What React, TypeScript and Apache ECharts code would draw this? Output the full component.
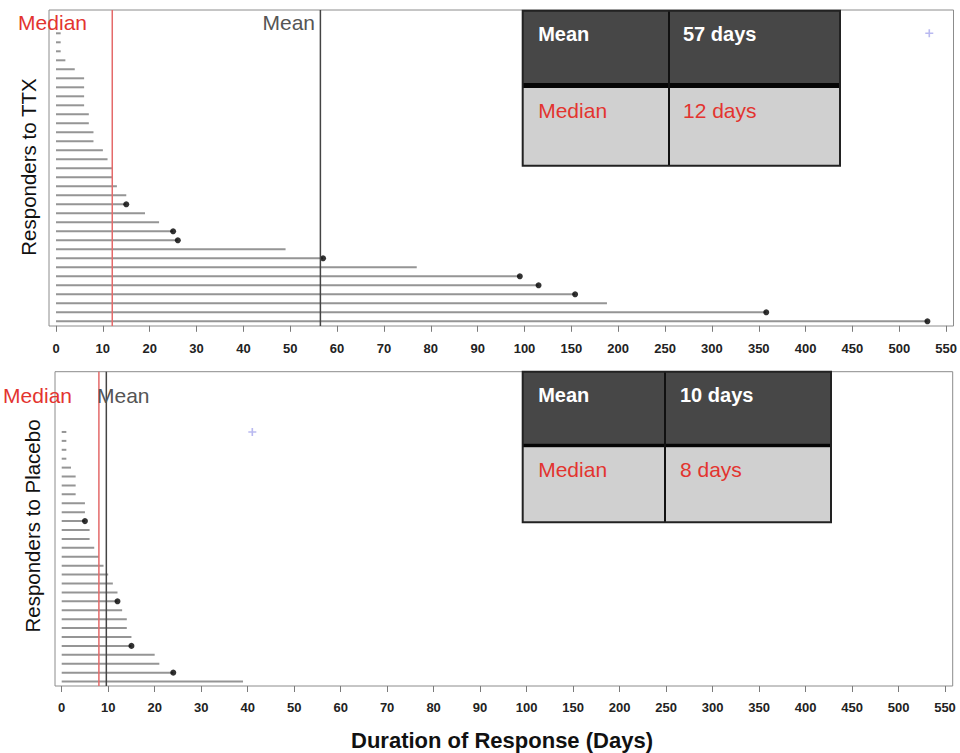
import { useEffect, useRef } from "react";
import * as echarts from "echarts";

// ---------- data ----------
const tickLabels = [0, 10, 20, 30, 40, 50, 60, 70, 80, 90, 100, 150, 200, 250, 300, 350, 400, 450, 500, 550];

const ttxDays = [1, 1, 1, 2, 4, 6, 6, 6, 6, 7, 7, 8, 8, 10, 11, 12, 12, 13, 15, 15, 19, 22, 25, 26, 49, 57, 77, 99, 115, 154, 188, 358, 530];
const ttxEvent = [0, 0, 0, 0, 0, 0, 0, 0, 0, 0, 0, 0, 0, 0, 0, 0, 0, 0, 0, 1, 0, 0, 1, 1, 0, 1, 0, 1, 1, 1, 0, 1, 1];
const ttxPlus = [532];
const ttxMedianLine = 12;
const ttxMeanLine = 56.4;
const ttxTable = [["Mean", "57 days"], ["Median", "12 days"]];

const placeboDays = [1, 1, 1, 1, 2, 3, 3, 3, 5, 5, 5, 6, 6, 7, 8, 9, 10, 11, 12, 12, 13, 14, 14, 15, 15, 20, 21, 24, 39];
const placeboEvent = [0, 0, 0, 0, 0, 0, 0, 0, 0, 0, 1, 0, 0, 0, 0, 0, 0, 0, 0, 1, 0, 0, 0, 0, 1, 0, 0, 1, 0];
const placeboPlus = [41];
const placeboMedianLine = 8;
const placeboMeanLine = 9.6;
const placeboTable = [["Mean", "10 days"], ["Median", "8 days"]];

// broken axis: 0-100 in steps of 10, then 100-550 in steps of 50, equally spaced
const toAxis = (v: number) => (v <= 100 ? v / 10 : 10 + (v - 100) / 50);

const RED = "#e3342f";
const FONT = '"Liberation Sans", Arial, Helvetica, sans-serif';

type Box = { l: number; r: number; t: number; b: number };
const panels: { box: Box; data: Box; days: number[]; ev: number[]; plus: number[]; med: number; mean: number; labelMargin: number }[] = [
  { box: { l: 49, r: 953.5, t: 10, b: 326 }, data: { l: 56, r: 946.7, t: 28.8, b: 325.8 }, days: ttxDays, ev: ttxEvent, plus: ttxPlus, med: ttxMedianLine, mean: ttxMeanLine, labelMargin: 16 },
  { box: { l: 55, r: 952.7, t: 371.7, b: 686 }, data: { l: 61.7, r: 945, t: 427.5, b: 686 }, days: placeboDays, ev: placeboEvent, plus: placeboPlus, med: placeboMedianLine, mean: placeboMeanLine, labelMargin: 15 },
];

function tableGraphic(x0: number, x1: number, y0: number, s0: number, s1: number, y1: number, col: number, rows: string[][], tx2: number) {
  const els: any[] = [
    { type: "rect", shape: { x: x0, y: y0, width: x1 - x0, height: s0 - y0 }, style: { fill: "#474747" } },
    { type: "rect", shape: { x: x0, y: s1, width: x1 - x0, height: y1 - s1 }, style: { fill: "#d0d0d0" } },
    { type: "rect", shape: { x: x0, y: s0, width: x1 - x0, height: s1 - s0 }, style: { fill: "#050505" } },
    { type: "line", shape: { x1: col, y1: y0, x2: col, y2: y1 }, style: { stroke: "#111", lineWidth: 2 } },
    { type: "rect", shape: { x: x0, y: y0, width: x1 - x0, height: y1 - y0 }, style: { fill: "none", stroke: "#222", lineWidth: 2 } },
  ];
  const ty = [y0 + 23.5, s1 + 22];
  rows.forEach((r, i) => {
    const isHead = i === 0;
    const common = {
      fontFamily: FONT,
      fontSize: isHead ? 20 : 21,
      fontWeight: isHead ? "bold" : "normal",
      fill: isHead ? "#ffffff" : RED,
      align: "left",
      verticalAlign: "middle",
    };
    els.push({ type: "text", x: x0 + 15.5, y: ty[i], style: { ...common, text: r[0] } });
    els.push({ type: "text", x: tx2, y: ty[i], style: { ...common, text: r[1] } });
  });
  return els;
}

export default function App() {
  const ref = useRef<HTMLDivElement>(null);

  useEffect(() => {
    if (!ref.current) return;
    const chart = echarts.init(ref.current, null, { renderer: "svg" });

    const grid: any[] = [];
    const xAxis: any[] = [];
    const yAxis: any[] = [];
    const series: any[] = [];

    panels.forEach((p, pi) => {
      const W = 960;
      const H = 753;
      const ppu = (p.data.r - p.data.l) / 19;
      const gi = pi * 2;
      // data grid
      grid.push({ left: p.data.l, right: W - p.data.r, top: p.data.t, bottom: H - p.data.b, containLabel: false });
      // box grid (frame + reference lines)
      grid.push({
        left: p.box.l, right: W - p.box.r, top: p.box.t, bottom: H - p.box.b,
        show: true, borderColor: "#8c8c8c", borderWidth: 1, backgroundColor: "transparent",
      });
      xAxis.push({
        type: "value", gridIndex: gi, min: 0, max: 19, interval: 1,
        axisLine: { show: false },
        axisTick: { show: true, length: 6, lineStyle: { color: "#7a7a7a", width: 1 } },
        splitLine: { show: false },
        axisLabel: {
          margin: p.labelMargin, fontSize: 13, fontWeight: "bold", color: "#222", fontFamily: FONT,
          formatter: (v: number) => String(tickLabels[Math.round(v)]),
        },
      });
      xAxis.push({
        type: "value", gridIndex: gi + 1, show: false,
        min: -(p.data.l - p.box.l) / ppu, max: 19 + (p.box.r - p.data.r) / ppu,
      });
      yAxis.push({
        type: "category", gridIndex: gi, inverse: true,
        data: p.days.map((_, i) => String(i + 1)),
        axisLine: { show: false }, axisTick: { show: false }, axisLabel: { show: false }, splitLine: { show: false },
      });
      yAxis.push({ type: "value", gridIndex: gi + 1, show: false, min: 0, max: 1 });

      series.push({
        type: "bar", xAxisIndex: gi, yAxisIndex: gi, barWidth: 2, silent: true,
        itemStyle: { color: "#959595" },
        data: p.days.map((d) => toAxis(d)),
        z: 2,
      });
      series.push({
        type: "scatter", xAxisIndex: gi, yAxisIndex: gi, symbol: "circle", symbolSize: 6, silent: true,
        itemStyle: { color: "#000" },
        data: p.days.map((d, i) => [toAxis(d), i]).filter((_, i) => p.ev[i] === 1),
        z: 4,
      });
      series.push({
        type: "scatter", xAxisIndex: gi, yAxisIndex: gi, silent: true,
        symbol: "path://M4,0h2v4h4v2h-4v4h-2v-4h-4v-2h4z", symbolSize: 8,
        itemStyle: { color: "#a7a7ec" },
        data: p.plus.map((d) => [toAxis(d), 0]),
        z: 4,
      });
      series.push({
        type: "line", xAxisIndex: gi + 1, yAxisIndex: gi + 1, symbol: "none", silent: true,
        lineStyle: { color: "#e46a6a", width: 1.5 },
        data: [[toAxis(p.med), 0], [toAxis(p.med), 1]],
        z: 5,
      });
      series.push({
        type: "line", xAxisIndex: gi + 1, yAxisIndex: gi + 1, symbol: "none", silent: true,
        lineStyle: { color: "#444", width: 1.5 },
        data: [[toAxis(p.mean), 0], [toAxis(p.mean), 1]],
        z: 5,
      });
    });

    const txt = (text: string, x: number, y: number, fill: string, align: string, extra: any = {}) => ({
      type: "text", x, y, z: 10,
      style: { text, fill, align, verticalAlign: "middle", fontFamily: FONT, fontSize: 21, ...extra },
    });

    const graphic: any[] = [
      ...tableGraphic(522.7, 840, 10.7, 83, 88, 165.7, 669, ttxTable, 683),
      ...tableGraphic(522.7, 831, 371.7, 443.3, 447.3, 522.3, 665, placeboTable, 680),
      txt("Median", 87, 22, RED, "right"),
      txt("Mean", 315, 22, "#555", "right"),
      txt("Median", 72, 395, RED, "right"),
      txt("Mean", 97, 395, "#555", "left"),
      { ...txt("Responders to TTX", 28, 167, "#111", "center", { fontSize: 20.5 }), rotation: Math.PI / 2 },
      { ...txt("Responders to Placebo", 32, 526, "#111", "center", { fontSize: 20.5 }), rotation: Math.PI / 2 },
      txt("Duration of Response (Days)", 502, 740, "#111", "center", { fontSize: 22, fontWeight: "bold" }),
    ];

    chart.setOption({
      animation: false,
      backgroundColor: "#ffffff",
      grid,
      xAxis,
      yAxis,
      series,
      graphic,
    });

    return () => chart.dispose();
  }, []);

  return <div ref={ref} style={{ position: "absolute", left: 0, top: 0, width: 960, height: 753 }} />;
}
